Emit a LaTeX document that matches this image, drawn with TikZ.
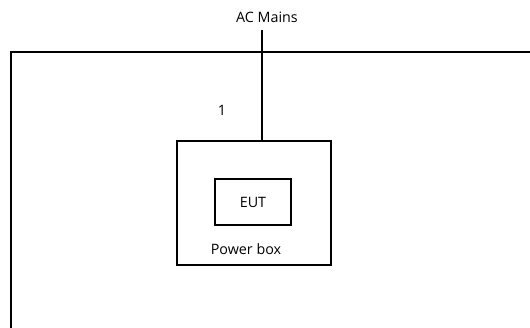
\documentclass[tikz,border=0pt]{standalone}
\usepackage{fontspec}
\setmainfont{Open Sans}
\begin{document}
\begin{tikzpicture}[x=1pt,y=-1pt,
  wire/.style={line width=1.8pt},
  box/.style={draw,line width=1.8pt,inner sep=0pt},
  lbl/.style={font=\fontsize{14.3}{16}\selectfont,inner sep=0pt}]
\useasboundingbox (0,0) rectangle (530,328);
\begin{scope}
\clip (0,0) rectangle (530,328);
\draw[wire] (11,336) -- (11,52) -- (540,52);
\end{scope}
\node[box,minimum width=154pt,minimum height=124pt] (pb) at (254,203) {};
\node[box,minimum width=76pt,minimum height=46pt] (eut) at (253,202) {};
\node[lbl] (eutl) at (253,202) {EUT};
\node[lbl] (pbl) at (246,249) {Power box};
\node[lbl] (ac) at (267,17) {AC Mains};
\node[lbl] (one) at (222,110) {1};
\coordinate (top) at (262,30);
\draw[wire] (top) -- (top |- pb.north);
\end{tikzpicture}
\end{document}
